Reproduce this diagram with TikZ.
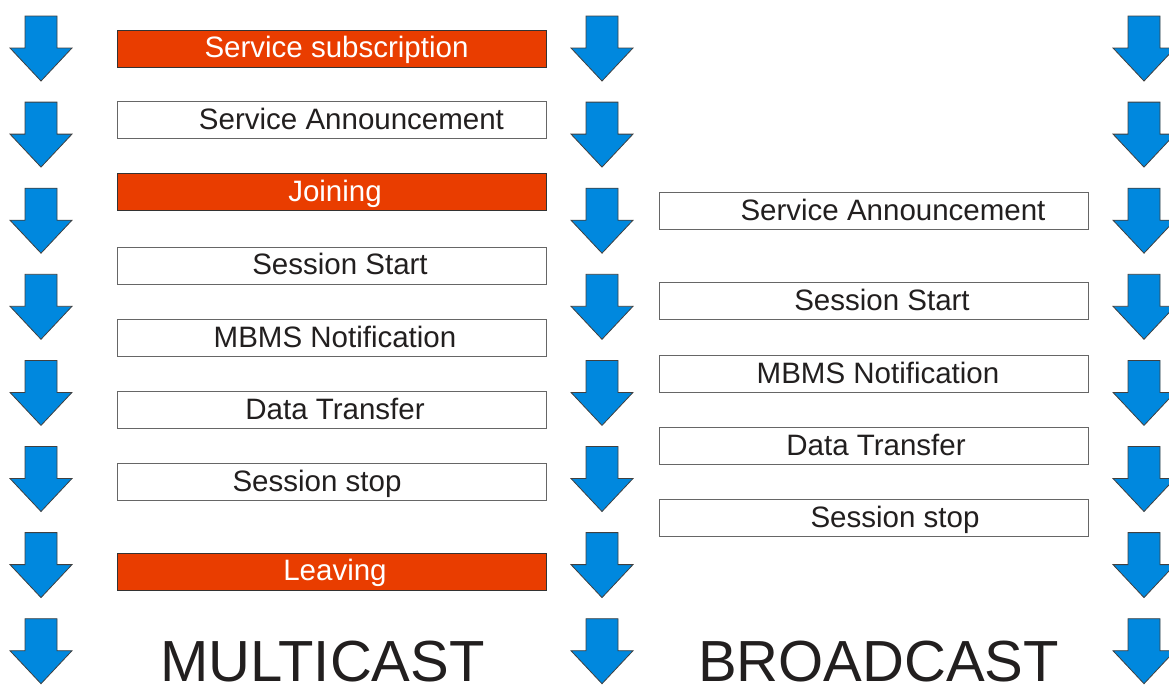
\documentclass[tikz,border=0pt]{standalone}
\usepackage{fontspec}
\setmainfont{Liberation Sans}
\definecolor{orng}{RGB}{233,61,0}
\definecolor{arrblue}{RGB}{0,136,222}
\definecolor{inkc}{RGB}{34,31,31}
\begin{document}
\begin{tikzpicture}[x=1pt,y=-1pt,
  downarrow/.style={fill=arrblue,draw=black!75,line width=0.8pt,line join=miter},
  stage/.style={draw=black!60,line width=1pt,fill=white,minimum width=429pt,minimum height=37pt,anchor=north west,inner sep=0pt},
  hotstage/.style={stage,draw=black!80,fill=orng},
  lbl/.style={anchor=base,font=\fontsize{29.5}{30}\selectfont,text=inkc,inner sep=0pt},
  hotlbl/.style={lbl,text=white},
  title/.style={anchor=base,font=\fontsize{58}{60}\selectfont,text=inkc,inner sep=0pt,text depth=0pt}]
\useasboundingbox (0,0) rectangle (1169,686);
\clip (0,0) rectangle (1169,686);
% arrows
\foreach \cx in {41,602,1144}{
  \foreach \i in {0,...,7}{
    \pgfmathsetmacro\t{16+86.1*\i}
    \draw[downarrow] (\cx-16,\t) -- (\cx+16,\t) -- (\cx+16,\t+32) -- (\cx+31,\t+32)
      -- (\cx,\t+65) -- (\cx-31,\t+32) -- (\cx-16,\t+32) -- cycle;
  }
}
% multicast column
\node[hotstage] (m1) at (117,30) {};
\node[hotlbl] (m1t) at (336.5,57.5) {Service subscription};
\node[stage] (m2) at (117,101) {};
\node[lbl] (m2t) at (351.5,129) {Service Announcement};
\node[hotstage] (m3) at (117,173) {};
\node[hotlbl] (m3t) at (335,201) {Joining};
\node[stage] (m4) at (117,247) {};
\node[lbl] (m4t) at (340,274) {Session Start};
\node[stage] (m5) at (117,319) {};
\node[lbl] (m5t) at (335,347) {MBMS Notification};
\node[stage] (m6) at (117,391) {};
\node[lbl] (m6t) at (335,419) {Data Transfer};
\node[stage] (m7) at (117,463) {};
\node[lbl] (m7t) at (317,491) {Session stop};
\node[hotstage] (m8) at (117,553) {};
\node[hotlbl] (m8t) at (335,580) {Leaving};
% broadcast column
\node[stage] (b1) at (659,192) {};
\node[lbl] (b1t) at (893,220) {Service Announcement};
\node[stage] (b2) at (659,282) {};
\node[lbl] (b2t) at (882,310) {Session Start};
\node[stage] (b3) at (659,355) {};
\node[lbl] (b3t) at (878,383) {MBMS Notification};
\node[stage] (b4) at (659,427) {};
\node[lbl] (b4t) at (876,455) {Data Transfer};
\node[stage] (b5) at (659,499) {};
\node[lbl] (b5t) at (895,527) {Session stop};
% titles
\node[title] (mt) at (322.5,681) {MULTICAST};
\node[title] (bt) at (878.5,681) {BROADCAST};
\end{tikzpicture}
\end{document}
